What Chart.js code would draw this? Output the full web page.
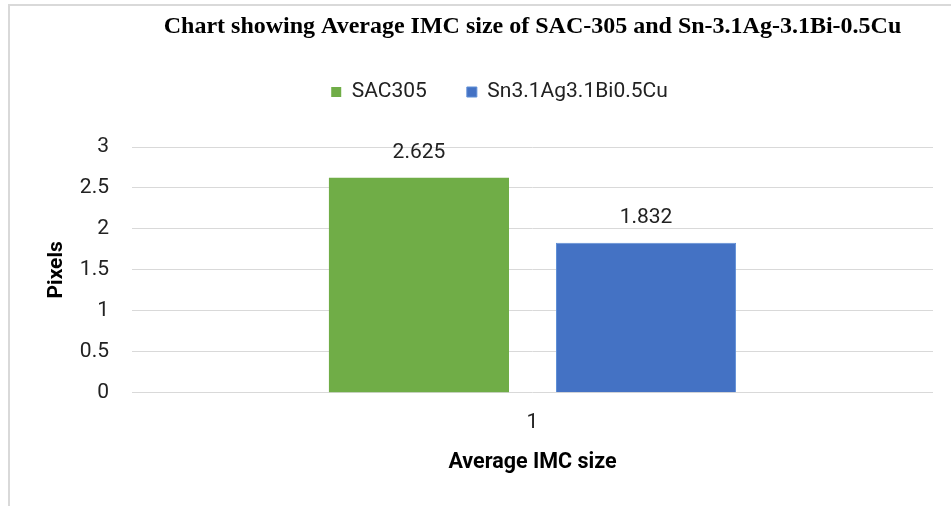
<!DOCTYPE html>
<html>
<head>
<meta charset="utf-8">
<script src="https://cdn.jsdelivr.net/npm/chart.js@4.4.1/dist/chart.umd.min.js"></script>
<style>
  html, body { margin: 0; padding: 0; overflow: hidden; background: #fff; }
  #wrap { position: relative; width: 999px; height: 506px; }
  #frame { position: absolute; left: 8px; top: 4px; width: 1200px; height: 800px;
           border-left: 2px solid #d9d9d9; border-top: 2px solid #d9d9d9; }
  #chart { position: absolute; left: 0; top: 0; }
</style>
</head>
<body>
<div id="wrap">
  <div id="frame"></div>
  <canvas id="chart" width="999" height="506"></canvas>
</div>
<script>
// Chart data
const categories = ['1'];
const seriesNames = ['SAC305', 'Sn3.1Ag3.1Bi0.5Cu'];
const sac305Values = [2.625];
const snAgBiCuValues = [1.832];
const yTicks = [0, 0.5, 1, 1.5, 2, 2.5, 3];

const chartTitle = 'Chart showing Average IMC size of SAC-305 and Sn-3.1Ag-3.1Bi-0.5Cu';
const xTitle = 'Average IMC size';
const yTitle = 'Pixels';

const SANS = 'Roboto';
const TEXT = '#222222';
const GRID = '#d9d9d9';

// Writes each bar's value just above it
const valueLabels = {
  id: 'valueLabels',
  afterDatasetsDraw(chart) {
    const ctx = chart.ctx;
    ctx.save();
    ctx.font = '21px ' + SANS;
    ctx.fillStyle = TEXT;
    ctx.textAlign = 'center';
    ctx.textBaseline = 'middle';
    chart.data.datasets.forEach((ds, i) => {
      const meta = chart.getDatasetMeta(i);
      meta.data.forEach((bar, j) => {
        ctx.fillText(ds.data[j].toFixed(3), bar.x, bar.y - 25);
      });
    });
    ctx.restore();
  }
};

new Chart(document.getElementById('chart'), {
  type: 'bar',
  data: {
    labels: categories,
    datasets: [
      {
        label: seriesNames[0],
        data: sac305Values,
        backgroundColor: '#70ad47',
        borderWidth: 0
      },
      {
        label: seriesNames[1],
        data: snAgBiCuValues,
        backgroundColor: '#4472c4',
        borderColor: '#5f8fd6',
        borderWidth: 1
      }
    ]
  },
  options: {
    responsive: false,
    animation: false,
    events: [],
    layout: { padding: { left: 0, right: 0, top: 0, bottom: 0 } },
    datasets: {
      bar: { categoryPercentage: 0.567, barPercentage: 0.793 }
    },
    plugins: {
      title: {
        display: true,
        text: chartTitle,
        fullSize: false,
        color: '#000',
        font: { family: 'Liberation Serif', size: 24, weight: 'bold', lineHeight: 1 },
        padding: { top: 15, bottom: 2.5 }
      },
      legend: {
        display: true,
        position: 'top',
        labels: {
          color: TEXT,
          font: { family: SANS, size: 21 },
          boxWidth: 10,
          boxHeight: 10,
          padding: 40
        }
      },
      // empty spacer between legend and plot
      subtitle: {
        display: true,
        text: '',
        weight: 500,
        font: { size: 1, lineHeight: 1 },
        padding: { top: 33.5, bottom: 0 }
      },
      tooltip: { enabled: false }
    },
    scales: {
      x: {
        grid: { display: false, drawTicks: false },
        border: { display: false },
        ticks: { color: TEXT, font: { family: SANS, size: 21 }, padding: 17.4 },
        title: {
          display: true,
          text: xTitle,
          color: '#000',
          font: { family: SANS, size: 21.5, weight: 'bold', lineHeight: 0.9 },
          padding: { top: 0, bottom: 34 }
        }
      },
      y: {
        min: 0,
        max: 3,
        afterBuildTicks(scale) {
          scale.ticks = yTicks.map(v => ({ value: v }));
        },
        afterFit(scale) { scale.width = 132; },
        grid: { color: GRID, lineWidth: 1, drawTicks: false },
        border: { display: false },
        ticks: {
          color: TEXT,
          font: { family: SANS, size: 21 },
          padding: 23,
          callback: v => String(v)
        },
        title: {
          display: true,
          text: yTitle,
          color: '#000',
          font: { family: SANS, size: 21, weight: 'bold', lineHeight: 1.2 },
          padding: { top: 44.4, bottom: 0 }
        }
      },
      // blank right-hand margin of the plot
      margin: {
        type: 'linear',
        position: 'right',
        display: true,
        afterFit(scale) { scale.width = 66; },
        grid: { display: false },
        border: { display: false },
        ticks: { display: false },
        title: { display: false }
      }
    }
  },
  plugins: [valueLabels]
});
</script>
</body>
</html>
